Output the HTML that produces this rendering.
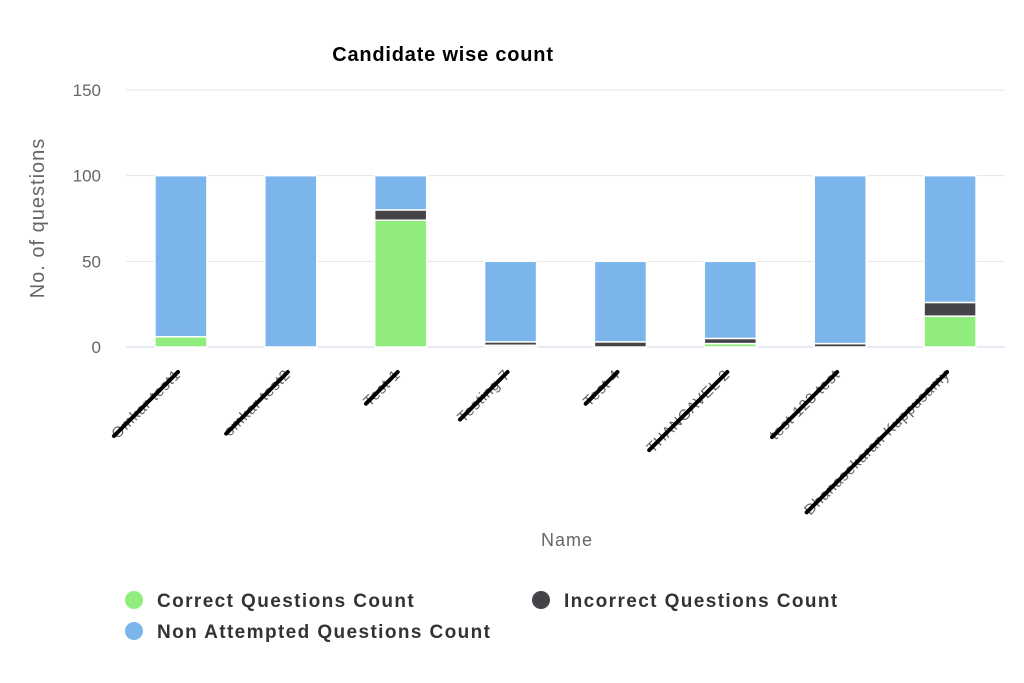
<!DOCTYPE html>
<html><head><meta charset="utf-8"><style>
body{margin:0;background:#fff;}
svg{display:block;font-family:"Liberation Sans","DejaVu Sans",sans-serif;}
</style></head><body>
<svg id="chart" width="1024" height="683">
<text x="443" y="61" text-anchor="middle" font-size="20" font-weight="bold" letter-spacing="0.8" fill="#000">Candidate wise count</text>
<g id="grid"></g>
<g id="bars"></g>
<g id="xlabels"></g>
<text transform="translate(44,218) rotate(-90)" text-anchor="middle" font-size="20" letter-spacing="1" fill="#666">No. of questions</text>
<text x="567" y="546" text-anchor="middle" font-size="18" letter-spacing="1" fill="#666">Name</text>
<g>
<g><circle cx="134" cy="600" r="9" fill="#90ed7d"/><text x="157" y="607" font-size="19" font-weight="bold" letter-spacing="1.4" fill="#333">Correct Questions Count</text></g>
<g><circle cx="541" cy="600" r="9" fill="#434348"/><text x="564" y="607" font-size="19" font-weight="bold" letter-spacing="1.4" fill="#333">Incorrect Questions Count</text></g>
<g><circle cx="134" cy="631" r="9" fill="#7cb5ec"/><text x="157" y="638" font-size="19" font-weight="bold" letter-spacing="1.4" fill="#333">Non Attempted Questions Count</text></g>
</g>
</svg>
<script>
const categories=["Omkar test1","omkar test2","Test 1","Testing 7","Test 4","THANGAVEL 2","test 123 test","Dhanasekaran Kuppusamy"];
const correct=[6,0,74,1,0,2,0,18];
const incorrect=[0,0,6,2,3,3,2,8];
const nonAttempted=[94,100,20,47,47,45,98,74];
const yTicks=[0,50,100,150];
const NS="http://www.w3.org/2000/svg";
const L=126,R=1005,T=90,B=347,yMax=150;
const y=v=>B-(v/yMax)*(B-T);
const band=(R-L)/categories.length;
const xc=i=>L+band*(i+0.5);
function mk(tag,attrs,parent){const e=document.createElementNS(NS,tag);for(const k in attrs)e.setAttribute(k,attrs[k]);parent.appendChild(e);return e;}
const grid=document.getElementById('grid');
yTicks.forEach(t=>{
  const ln=mk('line',{x1:L,x2:R,y1:y(t),y2:y(t),stroke:t===0?'#ccd6eb':'#e6e6e6','stroke-width':1},grid);
  
  
  const tx=mk('text',{x:101,y:y(t)+6,'text-anchor':'end','font-size':17,fill:'#666'},grid);
  tx.textContent=t;
  
  
});
const bars=document.getElementById('bars');
const series=[[correct,'#90ed7d','correct'],[incorrect,'#434348','incorrect'],[nonAttempted,'#7cb5ec','non-attempted']];
const bw=52;
categories.forEach((c,i)=>{
  let base=0;
  series.forEach(([arr,col,nm])=>{
    const v=arr[i];
    if(v>0){
      const r=mk('rect',{x:xc(i)-bw/2,y:y(base+v),width:bw,height:y(base)-y(base+v),fill:col,stroke:'#fff','stroke-width':1.5},bars);
      
      
    }
    base+=v;
  });
});
const xl=document.getElementById('xlabels');
categories.forEach((c,i)=>{
  const g=mk('g',{transform:`translate(${xc(i)-3},372) rotate(-45)`},xl);
  
  
  const t=mk('text',{x:0,y:5,'text-anchor':'end','font-size':15,'letter-spacing':0.8,fill:'#666'},g);
  t.textContent=c;
  const w=t.getComputedTextLength();
  const ln=mk('line',{x1:-w,x2:0,y1:0,y2:0,stroke:'#000','stroke-width':4,'stroke-linecap':'round'},g);
  
  
});
</script>
</body></html>
